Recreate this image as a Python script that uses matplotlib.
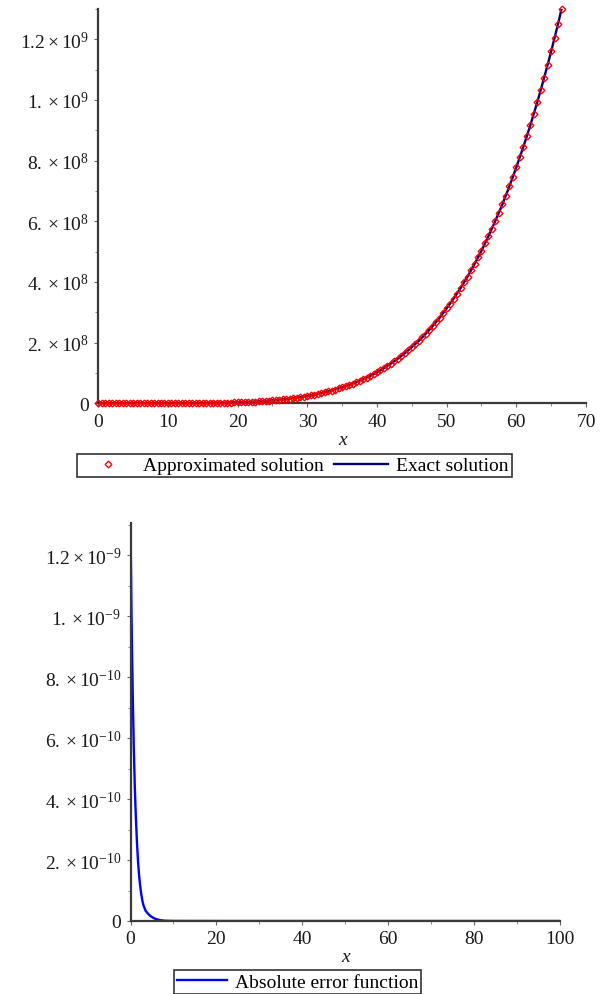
import numpy as np
import matplotlib
matplotlib.use("Agg")
import matplotlib.pyplot as plt
from matplotlib.lines import Line2D
from matplotlib.ticker import MultipleLocator, FixedLocator

plt.rcParams['font.family'] = ['Liberation Serif', 'DejaVu Serif']
plt.rcParams['mathtext.fontset'] = 'custom'
plt.rcParams['mathtext.rm'] = 'Liberation Serif'
plt.rcParams['mathtext.it'] = 'Liberation Serif:italic'
plt.rcParams['mathtext.bf'] = 'Liberation Serif:bold'

# ---------------- data (top chart) ----------------
# approximated solution sampled every 0.5 from x = 0 to 66.5, values in millions
approx_step = 0.5
approx_vals_millions = [
    0, 0, 0, 0, 0, 0, 0, 0, 0, 0,
    0, 0.01, 0.01, 0.01, 0.02, 0.02, 0.03, 0.04, 0.06, 0.08,
    0.10, 0.13, 0.16, 0.20, 0.25, 0.31, 0.37, 0.45, 0.54, 0.64,
    0.76, 0.89, 1.05, 1.22, 1.42, 1.64, 1.89, 2.17, 2.48, 2.82,
    3.20, 3.62, 4.08, 4.59, 5.15, 5.77, 6.44, 7.17, 7.96, 8.83,
    9.77, 10.8, 11.9, 13.1, 14.3, 15.7, 17.2, 18.8, 20.5, 22.3,
    24.3, 26.4, 28.6, 31.0, 33.6, 36.3, 39.1, 42.2, 45.4, 48.9,
    52.5, 56.4, 60.5, 64.8, 69.3, 74.2, 79.2, 84.6, 90.2, 96.2,
    102, 109, 116, 123, 131, 139, 147, 156, 165, 175,
    185, 195, 206, 217, 229, 242, 255, 268, 282, 297,
    313, 328, 345, 362, 380, 399, 418, 438, 459, 481,
    503, 527, 551, 576, 602, 629, 656, 685, 715, 746,
    778, 811, 845, 880, 916, 954, 992, 1032, 1074, 1116,
    1160, 1206, 1252, 1300,
]
# exact solution at integer x from 0 to 67, values in millions
exact_vals_millions = [
    0, 0, 0, 0, 0, 0, 0.01, 0.02, 0.03, 0.06,
    0.10, 0.16, 0.25, 0.37, 0.54, 0.76, 1.05, 1.42, 1.89, 2.48,
    3.20, 4.08, 5.15, 6.44, 7.96, 9.77, 11.9, 14.3, 17.2, 20.5,
    24.3, 28.6, 33.6, 39.1, 45.4, 52.5, 60.5, 69.3, 79.2, 90.2,
    102, 116, 131, 147, 165, 185, 206, 229, 255, 282,
    313, 345, 380, 418, 459, 503, 551, 602, 656, 715,
    778, 845, 916, 992, 1074, 1160, 1252, 1350,
]
top_xticks = [0, 10, 20, 30, 40, 50, 60, 70]
top_yticks = [0, 2e8, 4e8, 6e8, 8e8, 1e9, 1.2e9]
top_ytick_labels = ["0", r"$2.\times10^{8}$", r"$4.\times10^{8}$", r"$6.\times10^{8}$",
                    r"$8.\times10^{8}$", r"$1.\times10^{9}$", r"$1.2\times10^{9}$"]

# ---------------- data (bottom chart) ----------------
err_x = [0, 0.25, 0.5, 0.75, 1.0, 1.25, 1.5, 1.75, 2.0, 2.25, 2.5, 2.75, 3.0,
         3.5, 4.0, 4.5, 5.0, 5.5, 6.0, 7.0, 8.0, 10, 20, 40, 60, 80, 100]
err_vals_e10 = [13.0, 9.9, 7.6, 5.8, 4.4, 3.4, 2.6, 1.95, 1.5, 1.15, 0.88, 0.68, 0.52,
                0.34, 0.25, 0.18, 0.13, 0.09, 0.06, 0.025, 0.01, 0.002, 0, 0, 0, 0, 0]
bot_xticks = [0, 20, 40, 60, 80, 100]
bot_yticks = [0, 2e-10, 4e-10, 6e-10, 8e-10, 1e-9, 1.2e-9]
bot_ytick_labels = ["0", r"$2.\times10^{-10}$", r"$4.\times10^{-10}$", r"$6.\times10^{-10}$",
                    r"$8.\times10^{-10}$", r"$1.\times10^{-9}$", r"$1.2\times10^{-9}$"]

legend_top = ["Approximated solution", "Exact solution"]
legend_bot = ["Absolute error function"]

# ---------------- figure ----------------
W, H = 606, 995
fig = plt.figure(figsize=(W / 100, H / 100), dpi=100)
FS = 14
SPINE = '#3a3a3a'
TXT = '#1a1a1a'


def style(ax):
    for s in ['top', 'right']:
        ax.spines[s].set_visible(False)
    for s in ['left', 'bottom']:
        ax.spines[s].set_color(SPINE)
        ax.spines[s].set_linewidth(1.6)
    ax.tick_params(which='major', direction='out', length=3.2, width=0.8, color='#666666',
                   labelsize=FS, labelcolor=TXT, pad=3.5)
    ax.tick_params(which='minor', direction='out', length=2.2, width=0.7, color='#888888')


# top axes
ax1 = fig.add_axes([98.3 / W, 1 - 404.3 / H, (586 - 98.3) / W, (404.3 - 10) / H])
style(ax1)
approx_x = np.arange(len(approx_vals_millions)) * approx_step
exact_x = np.arange(len(exact_vals_millions))
ax1.plot(exact_x, np.array(exact_vals_millions) * 1e6, color='#000080', lw=1.7, zorder=3)
ax1.plot(approx_x, np.array(approx_vals_millions) * 1e6, linestyle='none', marker='D',
         markersize=3.4, markerfacecolor='none', markeredgecolor='#ff0000',
         markeredgewidth=1.0, zorder=4, clip_on=False)
ax1.set_xlim(0, 70)
ax1.set_ylim(0, 1.3e9)
ax1.xaxis.set_major_locator(FixedLocator(top_xticks))
ax1.xaxis.set_minor_locator(MultipleLocator(5))
ax1.yaxis.set_major_locator(FixedLocator(top_yticks))
ax1.set_yticklabels(top_ytick_labels)
ax1.yaxis.set_minor_locator(MultipleLocator(1e8))
ax1.set_xlabel('x', fontsize=FS, fontstyle='italic', color=TXT)
ax1.xaxis.set_label_coords(0.5, (404.3 - 441) / (404.3 - 10))
ax1.xaxis.label.set_va('center')

h1 = [Line2D([], [], linestyle='none', marker='D', markersize=3.4, markerfacecolor='none',
             markeredgecolor='#ff0000', markeredgewidth=1.0),
      Line2D([], [], color='#000080', lw=1.7)]
leg1 = fig.legend(h1, legend_top, loc='center', bbox_to_anchor=(294.5 / W, 1 - 466.5 / H),
                  bbox_transform=fig.transFigure, ncol=2, fontsize=FS, frameon=True,
                  fancybox=False, edgecolor='black', handlelength=2.8, handletextpad=0.4,
                  columnspacing=0.55, borderpad=0.15, borderaxespad=0)
leg1.get_frame().set_linewidth(1.2)

# bottom axes
ax2 = fig.add_axes([130.5 / W, 1 - 922 / H, (560 - 130.5) / W, (922 - 524) / H])
style(ax2)
ax2.plot(err_x, np.array(err_vals_e10) * 1e-10, color='#0000ff', lw=1.7, zorder=2)
ax2.set_xlim(0, 100)
ax2.set_ylim(0, 1.305e-9)
ax2.xaxis.set_major_locator(FixedLocator(bot_xticks))
ax2.xaxis.set_minor_locator(MultipleLocator(10))
ax2.yaxis.set_major_locator(FixedLocator(bot_yticks))
ax2.set_yticklabels(bot_ytick_labels)
ax2.yaxis.set_minor_locator(MultipleLocator(1e-10))
ax2.set_xlabel('x', fontsize=FS, fontstyle='italic', color=TXT)
ax2.xaxis.set_label_coords(0.5, (922 - 958) / (922 - 524))
ax2.xaxis.label.set_va('center')

h2 = [Line2D([], [], color='#0000ff', lw=1.7)]
leg2 = fig.legend(h2, legend_bot, loc='center', bbox_to_anchor=(297.5 / W, 1 - 983 / H),
                  bbox_transform=fig.transFigure, ncol=1, fontsize=FS, frameon=True,
                  fancybox=False, edgecolor='black', handlelength=2.6, handletextpad=0.4,
                  borderpad=0.15, borderaxespad=0)
leg2.get_frame().set_linewidth(1.2)

fig.savefig('out.png', dpi=100)
